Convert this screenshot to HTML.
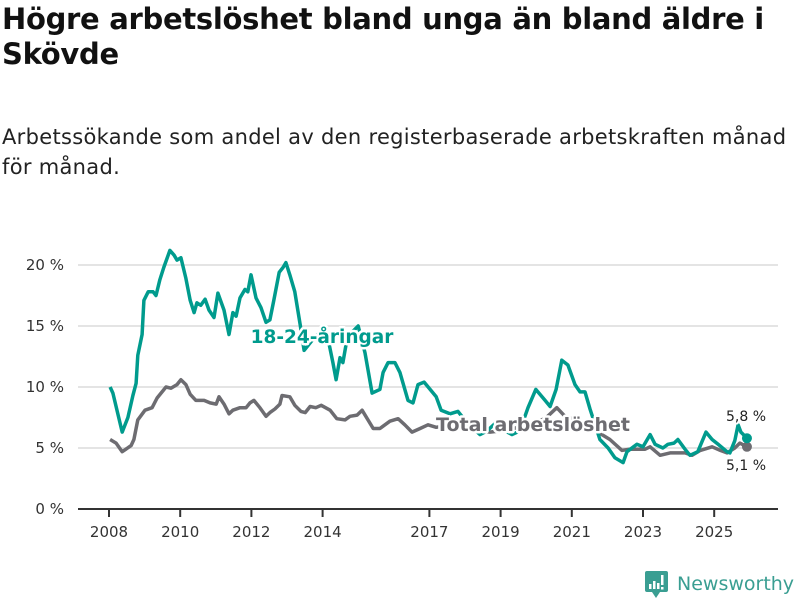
<!DOCTYPE html>
<html><head><meta charset="utf-8"><style>
body{margin:0;background:#fff;width:800px;height:600px;overflow:hidden;font-family:"Liberation Sans","DejaVu Sans",sans-serif;}
h1{position:absolute;left:2px;top:2px;margin:0;font-size:29px;line-height:35px;font-weight:bold;color:#111;width:795px;font-family:"DejaVu Sans","Liberation Sans",sans-serif;letter-spacing:-0.3px}
p{position:absolute;left:2px;top:122px;margin:0;font-size:21px;line-height:30px;color:#222;width:796px;font-family:"DejaVu Sans","Liberation Sans",sans-serif;letter-spacing:0.3px}
svg{position:absolute;left:0;top:0}
</style></head><body>
<h1>Högre arbetslöshet bland unga än bland äldre i Skövde</h1>
<p>Arbetssökande som andel av den registerbaserade arbetskraften månad för månad.</p>
<svg id="c" width="800" height="600"></svg>
<script>
const yTicks=[0,5,10,15,20];
const xTicks=[2008,2010,2012,2014,2017,2019,2021,2023,2025];
const youthDates=[2008.03,2008.11,2008.37,2008.53,2008.67,2008.76,2008.81,2008.93,2008.98,2009.10,2009.24,2009.32,2009.43,2009.54,2009.71,2009.83,2009.91,2010.02,2010.16,2010.28,2010.39,2010.47,2010.58,2010.70,2010.81,2010.95,2011.06,2011.23,2011.37,2011.48,2011.57,2011.68,2011.82,2011.90,2011.99,2012.13,2012.27,2012.41,2012.52,2012.63,2012.78,2012.89,2012.97,2013.08,2013.22,2013.37,2013.48,2013.70,2013.93,2014.15,2014.29,2014.38,2014.49,2014.57,2014.66,2014.83,2015.00,2015.19,2015.39,2015.61,2015.70,2015.84,2016.03,2016.17,2016.40,2016.54,2016.68,2016.85,2017.02,2017.19,2017.33,2017.58,2017.80,2018.08,2018.42,2018.62,2018.84,2019.07,2019.32,2019.54,2019.77,2019.99,2020.25,2020.39,2020.56,2020.72,2020.89,2021.09,2021.23,2021.37,2021.51,2021.79,2022.02,2022.21,2022.44,2022.55,2022.83,2023.00,2023.20,2023.34,2023.56,2023.70,2023.87,2023.98,2024.18,2024.32,2024.54,2024.77,2024.94,2025.11,2025.36,2025.44,2025.58,2025.67,2025.75,2025.92];
const youthValues=[10.0,9.5,6.3,7.5,9.3,10.3,12.6,14.3,17.1,17.8,17.8,17.5,18.8,19.8,21.2,20.8,20.4,20.6,18.9,17.1,16.1,16.9,16.7,17.2,16.3,15.7,17.7,16.3,14.3,16.1,15.8,17.3,18.0,17.8,19.2,17.3,16.5,15.3,15.5,17.1,19.4,19.8,20.2,19.2,17.8,15.1,13.0,13.8,14.5,14.0,12.0,10.6,12.4,12.0,13.5,14.5,15.0,12.8,9.5,9.8,11.2,12.0,12.0,11.2,8.9,8.7,10.2,10.4,9.8,9.2,8.1,7.8,8.0,7.0,6.1,6.4,7.0,6.5,6.1,6.4,8.3,9.8,8.9,8.4,9.8,12.2,11.8,10.2,9.6,9.6,8.2,5.7,5.0,4.2,3.8,4.7,5.3,5.1,6.1,5.3,5.0,5.3,5.4,5.7,4.9,4.4,4.7,6.3,5.7,5.3,4.7,4.6,5.6,6.9,6.3,5.8];
const totalDates=[2008.03,2008.20,2008.37,2008.62,2008.70,2008.81,2009.01,2009.21,2009.35,2009.60,2009.74,2009.91,2010.02,2010.16,2010.28,2010.44,2010.67,2010.84,2011.01,2011.09,2011.23,2011.37,2011.48,2011.68,2011.85,2011.96,2012.07,2012.24,2012.41,2012.52,2012.66,2012.80,2012.86,2013.08,2013.22,2013.39,2013.51,2013.65,2013.81,2013.96,2014.21,2014.40,2014.63,2014.77,2014.97,2015.11,2015.42,2015.61,2015.89,2016.12,2016.31,2016.51,2016.74,2016.96,2017.19,2017.58,2018.14,2018.70,2019.26,2019.83,2020.25,2020.58,2020.81,2021.23,2021.51,2021.79,2022.07,2022.41,2022.63,2023.06,2023.20,2023.48,2023.76,2024.18,2024.38,2024.61,2024.94,2025.17,2025.36,2025.58,2025.72,2025.92];
const totalValues=[5.7,5.4,4.7,5.2,5.7,7.3,8.1,8.3,9.1,10.0,9.9,10.2,10.6,10.2,9.4,8.9,8.9,8.7,8.6,9.2,8.6,7.8,8.1,8.3,8.3,8.7,8.9,8.3,7.6,7.9,8.2,8.6,9.3,9.2,8.5,8.0,7.9,8.4,8.3,8.5,8.1,7.4,7.3,7.6,7.7,8.1,6.6,6.6,7.2,7.4,6.9,6.3,6.6,6.9,6.7,6.9,6.6,6.3,6.5,7.0,7.4,8.3,7.6,7.2,6.8,6.2,5.7,4.8,4.9,4.9,5.1,4.4,4.6,4.6,4.4,4.8,5.1,4.8,4.6,5.0,5.4,5.1];
const TEAL="#009b8d",GRAY="#6d6c71";
const X=y=>109+(y-2008)*35.6;
const Y=v=>509-v*12.2;
const svg=document.getElementById('c');
const NS="http://www.w3.org/2000/svg";
function mk(t,a){const e=document.createElementNS(NS,t);for(const k in a)e.setAttribute(k,a[k]);svg.appendChild(e);return e;}
yTicks.forEach(v=>{
  if(v>0){const g=mk('line',{x1:78,x2:778,y1:Y(v),y2:Y(v),stroke:'#dcdcdc','stroke-width':1.5});
  
  }
  const t=mk('text',{x:64,y:Y(v)+5,'text-anchor':'end','font-size':15,fill:'#333','font-family':'DejaVu Sans, Liberation Sans, sans-serif'});
  t.textContent=v+' %';
  
  
});
const ax=mk('line',{x1:78,x2:778,y1:509,y2:509,stroke:'#333','stroke-width':2});


xTicks.forEach(yr=>{
  const tk=mk('line',{x1:X(yr),x2:X(yr),y1:509,y2:517,stroke:'#333','stroke-width':2});
  
  
  const t=mk('text',{x:X(yr),y:537,'text-anchor':'middle','font-size':15,fill:'#333','font-family':'DejaVu Sans, Liberation Sans, sans-serif'});
  t.textContent=yr;
  
  
});
function line(d,v,c,name){
  const p=mk('path',{d:d.map((x,i)=>(i?'L':'M')+X(x).toFixed(1)+','+Y(v[i]).toFixed(1)).join(''),fill:'none',stroke:c,'stroke-width':3.5,'stroke-linejoin':'round'});
  
  
  const n=d.length-1;
  const dot=mk('circle',{cx:X(d[n]),cy:Y(v[n]),r:5,fill:c});
  
  
}
line(totalDates,totalValues,GRAY,'total-line');
line(youthDates,youthValues,TEAL,'youth-line');
function lbl(x,y,s,c,name,bold,size){
  const t=mk('text',{x:x,y:y,'text-anchor':'middle','font-size':size,'font-weight':bold?'bold':'normal',fill:c,stroke:'#fff','stroke-width':bold?5:4,'paint-order':'stroke','stroke-linejoin':'round','font-family':'DejaVu Sans, Liberation Sans, sans-serif'});
  t.textContent=s;
  
  
}
lbl(322,343,'18-24-åringar',TEAL,'youth-series-label',true,18.5);
lbl(533,431,'Total arbetslöshet',GRAY,'total-series-label',true,19);
lbl(746,421,'5,8 %','#222','youth-end-value',false,14);
lbl(746,470,'5,1 %','#222','total-end-value',false,14);
</script>
<svg width="800" height="600">
<rect x="645" y="571" width="23" height="21" rx="2" fill="#3a9e92"/>
<polygon points="652,592 660,592 656,598" fill="#3a9e92"/>
<rect x="649" y="584" width="2.5" height="5" fill="#fff"/><rect x="653" y="581" width="2.5" height="8" fill="#fff"/><rect x="657" y="583" width="2.5" height="6" fill="#fff"/><rect x="661" y="575" width="2.5" height="10" fill="#fff"/><rect x="661" y="587" width="2.5" height="2.5" fill="#fff"/>
<text x="677" y="590" font-size="19" fill="#3a9e92" font-family="DejaVu Sans, Liberation Sans, sans-serif">Newsworthy</text>
</svg>
</body></html>
